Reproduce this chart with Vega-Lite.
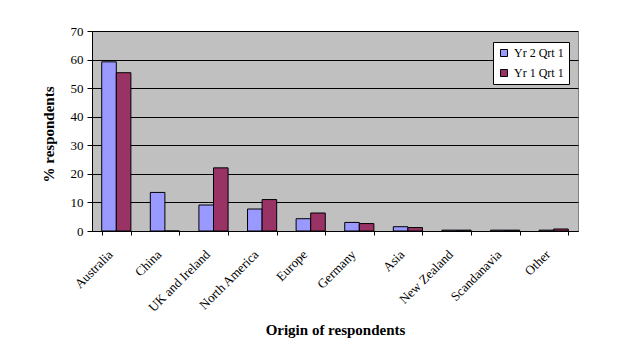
{
  "$schema": "https://vega.github.io/schema/vega-lite/v6.json",
  "width": 486,
  "height": 200,
  "autosize": {"type": "none"},
  "padding": {"left": 92, "top": 31, "right": 50, "bottom": 110},
  "background": "white",
  "config": {
    "font": "Liberation Serif",
    "view": {"fill": "#C0C0C0", "stroke": "#808080", "strokeWidth": 1}
  },
  "data": {
    "values": [
      {"origin": "Australia", "period": "Yr 2 Qrt 1", "pct": 59.2},
      {"origin": "Australia", "period": "Yr 1 Qrt 1", "pct": 55.4},
      {"origin": "China", "period": "Yr 2 Qrt 1", "pct": 13.5},
      {"origin": "China", "period": "Yr 1 Qrt 1", "pct": 0},
      {"origin": "UK and Ireland", "period": "Yr 2 Qrt 1", "pct": 9.1},
      {"origin": "UK and Ireland", "period": "Yr 1 Qrt 1", "pct": 22.1},
      {"origin": "North America", "period": "Yr 2 Qrt 1", "pct": 7.7},
      {"origin": "North America", "period": "Yr 1 Qrt 1", "pct": 11.0},
      {"origin": "Europe", "period": "Yr 2 Qrt 1", "pct": 4.3},
      {"origin": "Europe", "period": "Yr 1 Qrt 1", "pct": 6.3},
      {"origin": "Germany", "period": "Yr 2 Qrt 1", "pct": 3.0},
      {"origin": "Germany", "period": "Yr 1 Qrt 1", "pct": 2.6},
      {"origin": "Asia", "period": "Yr 2 Qrt 1", "pct": 1.5},
      {"origin": "Asia", "period": "Yr 1 Qrt 1", "pct": 1.2},
      {"origin": "New Zealand", "period": "Yr 2 Qrt 1", "pct": 0.3},
      {"origin": "New Zealand", "period": "Yr 1 Qrt 1", "pct": 0.3},
      {"origin": "Scandanavia", "period": "Yr 2 Qrt 1", "pct": 0.3},
      {"origin": "Scandanavia", "period": "Yr 1 Qrt 1", "pct": 0.3},
      {"origin": "Other", "period": "Yr 2 Qrt 1", "pct": 0.3},
      {"origin": "Other", "period": "Yr 1 Qrt 1", "pct": 0.7}
    ]
  },
  "mark": {"type": "bar", "stroke": "black", "strokeWidth": 1},
  "encoding": {
    "x": {
      "field": "origin",
      "type": "nominal",
      "sort": null,
      "scale": {"paddingInner": 0.4, "paddingOuter": 0.2},
      "axis": {
        "title": "Origin of respondents",
        "titleFont": "Liberation Serif",
        "titleFontSize": 15,
        "titleFontWeight": "bold",
        "titleColor": "black",
        "titleX": 243,
        "titleY": 98,
        "titleBaseline": "middle",
        "labelAngle": -45,
        "labelAlign": "right",
        "labelBaseline": "middle",
        "labelPadding": 17,
        "labelOffset": -6,
        "labelFont": "Liberation Serif",
        "labelFontSize": 13,
        "labelColor": "black",
        "tickBand": "extent",
        "tickSize": 4,
        "tickColor": "black",
        "domainColor": "black",
        "grid": false
      }
    },
    "xOffset": {
      "field": "period",
      "type": "nominal",
      "sort": ["Yr 2 Qrt 1", "Yr 1 Qrt 1"],
      "scale": {"paddingInner": 0, "paddingOuter": 0}
    },
    "y": {
      "field": "pct",
      "type": "quantitative",
      "scale": {"domain": [0, 70], "nice": false},
      "axis": {
        "title": "% respondents",
        "titleFont": "Liberation Serif",
        "titleFontSize": 15,
        "titleFontWeight": "bold",
        "titleColor": "black",
        "titleAngle": -90,
        "titleX": -44,
        "titleY": 103,
        "titleBaseline": "middle",
        "titleAlign": "center",
        "values": [0, 10, 20, 30, 40, 50, 60, 70],
        "labelFont": "Liberation Serif",
        "labelFontSize": 13,
        "labelColor": "black",
        "labelPadding": 4,
        "tickSize": 5,
        "tickColor": "black",
        "domainColor": "black",
        "grid": true,
        "gridColor": "black",
        "gridOpacity": 1
      }
    },
    "color": {
      "field": "period",
      "type": "nominal",
      "sort": ["Yr 2 Qrt 1", "Yr 1 Qrt 1"],
      "scale": {"domain": ["Yr 2 Qrt 1", "Yr 1 Qrt 1"], "range": ["#9999FF", "#993366"]},
      "legend": {
        "title": null,
        "orient": "none",
        "legendX": 401,
        "legendY": 11,
        "fillColor": "white",
        "strokeColor": "black",
        "padding": 5,
        "rowPadding": 8,
        "symbolType": "square",
        "symbolSize": 49,
        "symbolStrokeColor": "black",
        "symbolStrokeWidth": 1,
        "symbolOpacity": 1,
        "labelFont": "Liberation Serif",
        "labelFontSize": 12,
        "labelColor": "black",
        "labelOffset": 4
      }
    }
  }
}
